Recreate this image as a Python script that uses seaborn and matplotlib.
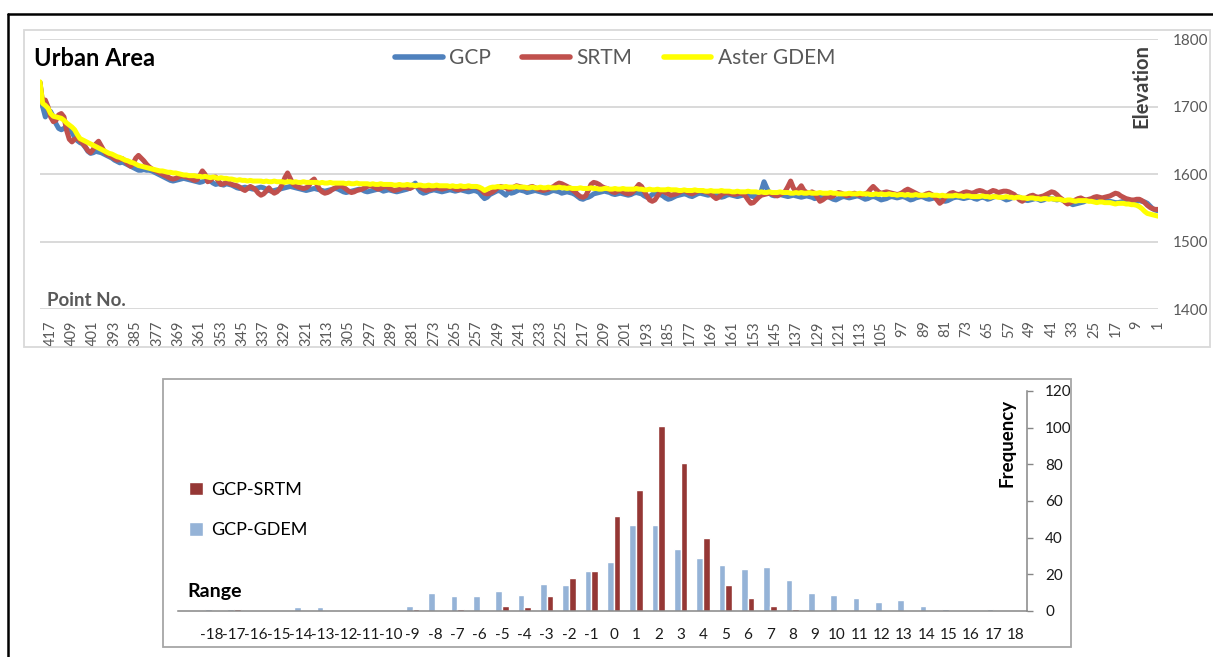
import matplotlib
matplotlib.use("Agg")
import matplotlib.pyplot as plt
import seaborn as sns
import pandas as pd
from matplotlib.lines import Line2D
from matplotlib.patches import Patch, Rectangle

# ---------------- data: top chart (point 1 .. 421) ----------------
gcp = [
    1546, 1547, 1549, 1553, 1557, 1559, 1560, 1561, 1560, 1559,
    1559, 1560, 1561, 1560, 1559, 1558, 1558, 1559, 1560, 1561,
    1561, 1562, 1562, 1561, 1560, 1561, 1562, 1561, 1559, 1558,
    1557, 1556, 1555, 1557, 1559, 1561, 1562, 1563, 1562, 1563,
    1564, 1565, 1564, 1562, 1561, 1563, 1564, 1563, 1562, 1561,
    1562, 1564, 1566, 1567, 1566, 1565, 1563, 1562, 1564, 1566,
    1567, 1567, 1566, 1564, 1563, 1565, 1566, 1565, 1563, 1564,
    1566, 1566, 1565, 1564, 1565, 1566, 1566, 1565, 1563, 1561,
    1560, 1562, 1565, 1566, 1565, 1564, 1563, 1564, 1566, 1567,
    1566, 1565, 1563, 1562, 1564, 1566, 1567, 1566, 1565, 1566,
    1567, 1566, 1564, 1563, 1562, 1564, 1566, 1567, 1566, 1564,
    1563, 1565, 1567, 1568, 1567, 1566, 1565, 1566, 1567, 1566,
    1564, 1562, 1563, 1565, 1567, 1568, 1567, 1566, 1565, 1564,
    1566, 1567, 1568, 1567, 1566, 1567, 1568, 1569, 1568, 1567,
    1568, 1569, 1570, 1569, 1568, 1569, 1572, 1580, 1589, 1576,
    1569, 1568, 1567, 1568, 1569, 1570, 1569, 1568, 1567, 1568,
    1569, 1570, 1569, 1567, 1566, 1568, 1570, 1571, 1570, 1569,
    1570, 1571, 1572, 1571, 1569, 1567, 1568, 1570, 1571, 1570,
    1569, 1568, 1566, 1564, 1563, 1565, 1568, 1570, 1571, 1572,
    1570, 1567, 1566, 1568, 1571, 1572, 1573, 1572, 1570, 1569,
    1570, 1571, 1572, 1571, 1570, 1571, 1573, 1574, 1575, 1574,
    1573, 1572, 1571, 1568, 1566, 1565, 1563, 1564, 1567, 1570,
    1572, 1573, 1574, 1573, 1572, 1574, 1575, 1576, 1575, 1573,
    1572, 1573, 1574, 1575, 1576, 1575, 1574, 1573, 1575, 1576,
    1577, 1575, 1573, 1572, 1574, 1569, 1572, 1575, 1576, 1574,
    1572, 1570, 1566, 1564, 1568, 1573, 1575, 1576, 1575, 1574,
    1575, 1576, 1577, 1576, 1575, 1576, 1577, 1576, 1575, 1574,
    1575, 1576, 1577, 1576, 1575, 1573, 1572, 1574, 1579, 1587,
    1584, 1580, 1578, 1577, 1576, 1575, 1574, 1575, 1576, 1577,
    1576, 1575, 1577, 1578, 1577, 1576, 1575, 1574, 1575, 1577,
    1578, 1577, 1576, 1575, 1574, 1573, 1574, 1576, 1578, 1579,
    1578, 1577, 1576, 1575, 1576, 1577, 1578, 1579, 1578, 1577,
    1576, 1577, 1578, 1579, 1580, 1581, 1582, 1581, 1580, 1579,
    1578, 1577, 1576, 1575, 1576, 1578, 1580, 1581, 1580, 1579,
    1578, 1579, 1580, 1581, 1580, 1579, 1580, 1582, 1584, 1585,
    1586, 1584, 1585, 1586, 1585, 1587, 1590, 1592, 1591, 1589,
    1588, 1589, 1590, 1591, 1592, 1593, 1594, 1593, 1592, 1591,
    1590, 1591, 1593, 1595, 1597, 1599, 1601, 1603, 1605, 1606,
    1606, 1607, 1606, 1606, 1608, 1610, 1612, 1614, 1616, 1618,
    1617, 1619, 1621, 1624, 1626, 1628, 1630, 1632, 1633, 1634,
    1632, 1631, 1634, 1640, 1645, 1647, 1650, 1655, 1662, 1670,
    1672, 1668, 1666, 1668, 1675, 1685, 1693, 1695, 1685, 1700,
    1736,
]

srtm = [
    1548, 1548, 1549, 1551, 1554, 1558, 1561, 1563, 1563, 1562,
    1562, 1563, 1564, 1566, 1568, 1571, 1572, 1570, 1568, 1567,
    1566, 1565, 1566, 1567, 1566, 1564, 1563, 1562, 1563, 1565,
    1564, 1562, 1560, 1558, 1556, 1559, 1563, 1566, 1570, 1573,
    1574, 1572, 1570, 1568, 1567, 1566, 1567, 1569, 1568, 1566,
    1563, 1560, 1562, 1566, 1570, 1572, 1574, 1575, 1575, 1574,
    1573, 1575, 1576, 1574, 1572, 1573, 1575, 1576, 1575, 1573,
    1572, 1573, 1574, 1573, 1571, 1570, 1571, 1573, 1572, 1569,
    1566, 1560, 1557, 1562, 1567, 1570, 1572, 1571, 1569, 1568,
    1570, 1572, 1574, 1576, 1578, 1576, 1573, 1571, 1570, 1571,
    1572, 1573, 1574, 1573, 1572, 1574, 1578, 1582, 1578, 1573,
    1571, 1570, 1569, 1570, 1572, 1571, 1569, 1568, 1570, 1572,
    1573, 1571, 1568, 1566, 1567, 1565, 1562, 1560, 1566, 1572,
    1574, 1572, 1573, 1576, 1583, 1578, 1574, 1580, 1590, 1582,
    1575, 1572, 1570, 1568, 1569, 1571, 1572, 1571, 1570, 1569,
    1566, 1562, 1558, 1557, 1562, 1568, 1571, 1572, 1571, 1570,
    1571, 1572, 1573, 1572, 1570, 1566, 1564, 1567, 1571, 1573,
    1574, 1575, 1576, 1575, 1573, 1571, 1572, 1574, 1576, 1575,
    1573, 1571, 1570, 1569, 1571, 1573, 1575, 1574, 1568, 1562,
    1560, 1562, 1568, 1575, 1582, 1585, 1580, 1575, 1572, 1571,
    1572, 1574, 1576, 1575, 1573, 1574, 1577, 1579, 1580, 1582,
    1585, 1587, 1588, 1585, 1576, 1568, 1566, 1567, 1570, 1574,
    1577, 1580, 1582, 1584, 1586, 1587, 1585, 1582, 1580, 1578,
    1577, 1576, 1577, 1578, 1580, 1582, 1581, 1579, 1580, 1581,
    1582, 1583, 1581, 1579, 1578, 1580, 1581, 1582, 1580, 1577,
    1574, 1572, 1571, 1572, 1576, 1579, 1581, 1582, 1581, 1580,
    1580, 1579, 1578, 1577, 1578, 1580, 1581, 1580, 1579, 1578,
    1579, 1580, 1579, 1578, 1577, 1576, 1578, 1580, 1582, 1583,
    1581, 1579, 1580, 1581, 1580, 1578, 1577, 1576, 1578, 1580,
    1582, 1581, 1579, 1578, 1580, 1582, 1583, 1582, 1580, 1578,
    1577, 1576, 1574, 1573, 1575, 1578, 1581, 1583, 1582, 1580,
    1578, 1575, 1573, 1572, 1574, 1578, 1585, 1593, 1590, 1583,
    1580, 1579, 1580, 1581, 1583, 1586, 1594, 1602, 1595, 1585,
    1578, 1574, 1572, 1575, 1580, 1575, 1571, 1569, 1572, 1577,
    1580, 1582, 1579, 1576, 1578, 1581, 1583, 1584, 1585, 1587,
    1588, 1586, 1585, 1590, 1596, 1595, 1591, 1589, 1600, 1605,
    1598, 1592, 1591, 1593, 1595, 1596, 1597, 1598, 1596, 1594,
    1593, 1594, 1596, 1598, 1600, 1602, 1604, 1606, 1608, 1611,
    1615, 1620, 1624, 1628, 1624, 1616, 1612, 1615, 1620, 1623,
    1622, 1621, 1623, 1626, 1628, 1630, 1635, 1642, 1649, 1645,
    1637, 1632, 1635, 1641, 1646, 1650, 1654, 1652, 1648, 1652,
    1665, 1685, 1690, 1688, 1680, 1678, 1685, 1700, 1710, 1706,
    1736,
]

aster_gdem = [
    1538, 1539, 1540, 1541, 1542, 1545, 1549, 1552, 1554, 1555,
    1555, 1556, 1556, 1557, 1557, 1557, 1556, 1557, 1558, 1558,
    1558, 1559, 1559, 1558, 1559, 1560, 1560, 1561, 1561, 1561,
    1561, 1560, 1561, 1562, 1562, 1561, 1562, 1563, 1563, 1563,
    1564, 1563, 1564, 1564, 1563, 1564, 1564, 1565, 1565, 1564,
    1565, 1565, 1566, 1566, 1565, 1566, 1566, 1567, 1566, 1566,
    1566, 1567, 1567, 1566, 1567, 1567, 1568, 1567, 1567, 1567,
    1567, 1568, 1568, 1567, 1568, 1568, 1569, 1568, 1568, 1568,
    1568, 1569, 1568, 1569, 1569, 1569, 1570, 1569, 1569, 1569,
    1569, 1570, 1569, 1569, 1570, 1569, 1570, 1570, 1569, 1570,
    1570, 1571, 1570, 1570, 1571, 1570, 1571, 1570, 1570, 1571,
    1571, 1571, 1572, 1571, 1571, 1571, 1572, 1571, 1571, 1571,
    1571, 1572, 1572, 1573, 1572, 1572, 1572, 1573, 1572, 1572,
    1572, 1573, 1572, 1572, 1573, 1572, 1573, 1572, 1572, 1573,
    1573, 1573, 1574, 1573, 1573, 1573, 1574, 1573, 1573, 1574,
    1573, 1574, 1574, 1574, 1575, 1574, 1574, 1574, 1575, 1574,
    1574, 1575, 1575, 1575, 1576, 1575, 1575, 1575, 1576, 1575,
    1575, 1576, 1576, 1576, 1577, 1576, 1576, 1576, 1577, 1576,
    1576, 1577, 1577, 1577, 1578, 1577, 1577, 1577, 1578, 1577,
    1577, 1578, 1577, 1577, 1578, 1578, 1579, 1578, 1578, 1578,
    1578, 1579, 1578, 1578, 1579, 1578, 1578, 1579, 1579, 1578,
    1578, 1579, 1579, 1580, 1579, 1579, 1579, 1580, 1579, 1579,
    1579, 1580, 1579, 1580, 1580, 1581, 1580, 1580, 1580, 1581,
    1580, 1580, 1581, 1580, 1580, 1581, 1580, 1580, 1581, 1581,
    1581, 1582, 1581, 1581, 1581, 1582, 1581, 1581, 1582, 1581,
    1581, 1580, 1578, 1576, 1579, 1581, 1582, 1582, 1582, 1583,
    1582, 1582, 1583, 1582, 1582, 1583, 1582, 1583, 1583, 1583,
    1583, 1584, 1583, 1583, 1584, 1583, 1583, 1584, 1584, 1583,
    1584, 1584, 1585, 1584, 1584, 1585, 1584, 1584, 1585, 1585,
    1585, 1585, 1586, 1585, 1585, 1586, 1585, 1586, 1586, 1586,
    1586, 1587, 1586, 1586, 1587, 1586, 1587, 1587, 1587, 1587,
    1587, 1588, 1587, 1587, 1588, 1587, 1588, 1588, 1588, 1588,
    1588, 1589, 1588, 1588, 1589, 1588, 1589, 1589, 1588, 1589,
    1589, 1589, 1590, 1589, 1589, 1590, 1589, 1590, 1590, 1590,
    1590, 1591, 1590, 1591, 1591, 1592, 1591, 1592, 1593, 1593,
    1594, 1594, 1595, 1594, 1595, 1596, 1595, 1596, 1597, 1596,
    1597, 1597, 1598, 1598, 1598, 1599, 1599, 1600, 1601, 1602,
    1602, 1603, 1603, 1604, 1605, 1605, 1606, 1607, 1608, 1609,
    1610, 1611, 1612, 1613, 1615, 1617, 1618, 1620, 1621, 1623,
    1625, 1626, 1628, 1630, 1631, 1633, 1635, 1637, 1639, 1641,
    1643, 1645, 1647, 1649, 1651, 1653, 1659, 1666, 1670, 1673,
    1676, 1680, 1683, 1684, 1685, 1686, 1690, 1698, 1702, 1705,
    1737,
]

point_no = list(range(1, len(gcp) + 1))
x_tick_points = list(range(1, 418, 8))
elev_ticks = [1400, 1500, 1600, 1700, 1800]

# ---------------- data: bottom chart ----------------
range_labels = ["", "-18", "-17", "-16", "-15", "-14", "-13", "-12", "-11", "-10",
                "-9", "-8", "-7", "-6", "-5", "-4", "-3", "-2", "-1",
                "0", "1", "2", "3", "4", "5", "6", "7", "8", "9", "10",
                "11", "12", "13", "14", "15", "16", "17", "18"]
gcp_gdem_freq = [0, 1, 1, 0, 0, 2, 2, 0, 0, 0,
                 3, 10, 8, 8, 11, 9, 15, 14, 22,
                 27, 47, 47, 34, 29, 25, 23, 24, 17, 10, 9,
                 7, 5, 6, 3, 1, 0, 1, 0]
gcp_srtm_freq = [0, 0, 1, 0, 0, 0, 0, 0, 0, 0,
                 1, 0, 1, 0, 3, 2, 8, 18, 22,
                 52, 66, 101, 81, 40, 14, 7, 3, 1, 0, 0,
                 0, 0, 0, 0, 0, 0, 0, 0]
freq_ticks = [0, 20, 40, 60, 80, 100, 120]

n = len(point_no)
if not (len(gcp) == len(srtm) == len(aster_gdem)):
    raise ValueError(f"lengths {len(gcp)} {len(srtm)} {len(aster_gdem)}")

# ---------------- style ----------------
sns.set_style("white")
plt.rcParams["font.family"] = ["Lato", "DejaVu Sans"]

W, H = 1213, 657
fig = plt.figure(figsize=(W / 100, H / 100), dpi=100)
fig.patch.set_facecolor("white")


def fx(px):
    return px / W


def fy(py):
    return 1 - py / H


# ---------------- top line chart ----------------
df_line = pd.DataFrame({
    "Point": point_no * 3,
    "Elevation": gcp + srtm + aster_gdem,
    "Series": ["GCP"] * n + ["SRTM"] * n + ["Aster GDEM"] * n,
})
line_colors = {"GCP": "#4F81BD", "SRTM": "#C0504D", "Aster GDEM": "#FFFF00"}

ax1 = fig.add_axes([fx(40), fy(309.3), (1158 - 40) / W, (309.3 - 39.3) / H])
sns.lineplot(data=df_line, x="Point", y="Elevation", hue="Series",
             hue_order=["GCP", "SRTM", "Aster GDEM"], palette=line_colors,
             linewidth=3.6, estimator=None, legend=False, ax=ax1)
for ln in ax1.get_lines():
    ln.set_solid_joinstyle("round")
    ln.set_solid_capstyle("round")
ax1.set_xlim(421, 1)
ax1.set_ylim(1400, 1800)
ax1.set_yticks(elev_ticks)
ax1.yaxis.tick_right()
ax1.set_xticks(x_tick_points)
ax1.set_xticklabels([str(p) for p in x_tick_points], rotation=90)
ax1.tick_params(axis="x", length=0, pad=8, labelsize=10.5, labelcolor="#595959")
ax1.tick_params(axis="y", length=0, pad=11, labelsize=11, labelcolor="#595959")
ax1.grid(axis="y", color="#D9D9D9", linewidth=1.4)
ax1.grid(axis="x", visible=False)
ax1.set_axisbelow(True)
for s in ax1.spines.values():
    s.set_visible(False)
ax1.set_xlabel("")
ax1.set_ylabel("")

fig.text(fx(34), fy(58), "Urban Area", fontsize=17, fontweight="bold",
         color="black", ha="left", va="center")
fig.text(fx(47), fy(300), "Point No.", fontsize=13.5, fontweight="bold",
         color="#595959", ha="left", va="center")
fig.text(fx(1141), fy(86), "Elevation", fontsize=14.5, fontweight="bold",
         color="#404040", ha="center", va="center", rotation=90)

leg_handles = [Line2D([], [], color=line_colors[k], lw=4, solid_capstyle="round")
               for k in ["GCP", "SRTM", "Aster GDEM"]]
fig.legend(leg_handles, ["GCP", "SRTM", "Aster GDEM"], ncol=3, loc="center",
           bbox_to_anchor=(fx(615), fy(58)), frameon=False, fontsize=15,
           handlelength=2.3, columnspacing=1.5, handletextpad=0.3,
           labelcolor="#595959")

# top frame (grey) and outer black frame
fig.add_artist(Rectangle((fx(24), fy(347)), (1210 - 24) / W, (347 - 30) / H,
                         transform=fig.transFigure, fill=False,
                         edgecolor="#D9D9D9", linewidth=1.3))
fig.add_artist(Line2D([fx(8), 1.0], [fy(14), fy(14)], transform=fig.transFigure,
                      color="black", linewidth=1.8))
fig.add_artist(Line2D([fx(8), fx(8)], [fy(14), 0.0], transform=fig.transFigure,
                      color="black", linewidth=1.8))

# ---------------- bottom bar chart ----------------
m = len(range_labels)
df_bar = pd.DataFrame({
    "Range": range_labels * 2,
    "Frequency": gcp_gdem_freq + gcp_srtm_freq,
    "Series": ["GCP-GDEM"] * m + ["GCP-SRTM"] * m,
})
bar_colors = {"GCP-GDEM": "#95B3D7", "GCP-SRTM": "#953735"}

ax2 = fig.add_axes([fx(178), fy(611), (1027 - 178) / W, (611 - 391) / H])
sns.barplot(data=df_bar, x="Range", y="Frequency", hue="Series",
            order=range_labels, hue_order=["GCP-GDEM", "GCP-SRTM"],
            palette=bar_colors, saturation=1, width=0.6, legend=False,
            ax=ax2)
ax2.set_xlim(-0.5, m - 0.5)
ax2.set_ylim(0, 120)
ax2.set_yticks(freq_ticks)
ax2.yaxis.tick_right()
ax2.set_xticks(range(m))
ax2.set_xticklabels(range_labels)
ax2.set_xticks([i - 0.5 for i in range(m + 1)], minor=True)
ax2.tick_params(axis="x", which="major", length=0, pad=12, labelsize=11,
                labelcolor="#1a1a1a")
ax2.tick_params(axis="x", which="minor", length=4, width=1, color="#868686",
                direction="out")
ax2.tick_params(axis="y", length=4, width=1, color="#868686", direction="out",
                pad=9, labelsize=11, labelcolor="#1a1a1a")
for k in ["top", "left"]:
    ax2.spines[k].set_visible(False)
for k in ["bottom", "right"]:
    ax2.spines[k].set_color("#868686")
    ax2.spines[k].set_linewidth(1.1)
ax2.set_xlabel("")
ax2.set_ylabel("")
ax2.grid(False)

fig.text(fx(187), fy(592), "Range", fontsize=14, fontweight="bold",
         color="black", ha="left", va="center")
fig.text(fx(1007), fy(443), "Frequency", fontsize=13.5, fontweight="bold",
         color="black", ha="center", va="center", rotation=90)

bar_handles = [Patch(facecolor=bar_colors["GCP-SRTM"]),
               Patch(facecolor=bar_colors["GCP-GDEM"])]
fig.legend(bar_handles, ["GCP-SRTM", "GCP-GDEM"], loc="upper left",
           bbox_to_anchor=(fx(189), fy(482)), frameon=False, fontsize=13,
           handlelength=0.75, handleheight=0.75, handletextpad=0.5,
           labelspacing=1.35, borderpad=0, borderaxespad=0,
           labelcolor="black")

fig.add_artist(Rectangle((fx(163), fy(647)), (1071 - 163) / W, (647 - 379) / H,
                         transform=fig.transFigure, fill=False,
                         edgecolor="#A6A6A6", linewidth=1.3))

fig.savefig("out.png", dpi=100, facecolor="white")
